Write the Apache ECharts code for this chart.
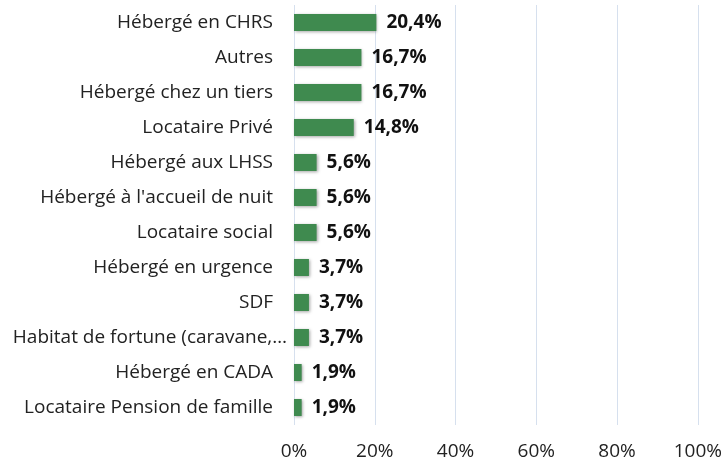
<!DOCTYPE html>
<html>
<head>
<meta charset="utf-8">
<script src="https://cdn.jsdelivr.net/npm/echarts@6/dist/echarts.min.js"></script>
<style>
  html, body { margin: 0; padding: 0; background: #fff; }
  #chart { width: 725px; height: 463px; }
</style>
</head>
<body>
<div id="chart"></div>
<script>
// categories top to bottom
const categories = [
  'Hébergé en CHRS',
  'Autres',
  'Hébergé chez un tiers',
  'Locataire Privé',
  'Hébergé aux LHSS',
  "Hébergé à l'accueil de nuit",
  'Locataire social',
  'Hébergé en urgence',
  'SDF',
  'Habitat de fortune (caravane,…',
  'Hébergé en CADA',
  'Locataire Pension de famille'
];
const values = [20.4, 16.7, 16.7, 14.8, 5.6, 5.6, 5.6, 3.7, 3.7, 3.7, 1.9, 1.9];
const xTicks = [0, 20, 40, 60, 80, 100];

const chart = echarts.init(document.getElementById('chart'));

const fontFam = '"Open Sans", "Noto Sans", sans-serif';

chart.setOption({
  animation: false,
  grid: { left: 294, right: 26, top: 5, bottom: 38, containLabel: false },
  xAxis: {
    type: 'value',
    min: 0,
    max: 100,
    interval: 20,
    axisLine: { show: false },
    axisTick: { show: false },
    splitLine: { lineStyle: { color: '#d6e0ee', width: 1 } },
    axisLabel: {
      color: '#222',
      fontSize: 19,
      fontFamily: fontFam,
      margin: 17,
      formatter: v => xTicks.includes(v) ? v + '%' : ''
    }
  },
  yAxis: {
    type: 'category',
    data: categories,
    inverse: true,
    axisLine: { show: false },
    axisTick: { show: false },
    axisLabel: {
      color: '#222',
      fontSize: 19,
      fontFamily: fontFam,
      margin: 7,
      // the truncated label sits closer to the bars, like the original
      formatter: v => v.endsWith('…') ? '{b|' + v + '}' : '{a|' + v + '}',
      rich: {
        a: { fontSize: 19, fontFamily: fontFam, color: '#222', padding: [0, 14, 0, 0] },
        b: { fontSize: 19, fontFamily: fontFam, color: '#222' }
      }
    }
  },
  series: [{
    type: 'bar',
    data: values,
    barWidth: 17,
    itemStyle: {
      color: '#3f8a4f',
      shadowColor: 'rgba(0,0,0,0.35)',
      shadowBlur: 3,
      shadowOffsetX: 1,
      shadowOffsetY: 1
    },
    label: {
      show: true,
      position: 'right',
      distance: 10,
      color: '#111',
      fontSize: 19,
      fontWeight: 'bold',
      fontFamily: fontFam,
      formatter: p => p.value.toFixed(1).replace('.', ',') + '%'
    }
  }]
});
</script>
</body>
</html>
